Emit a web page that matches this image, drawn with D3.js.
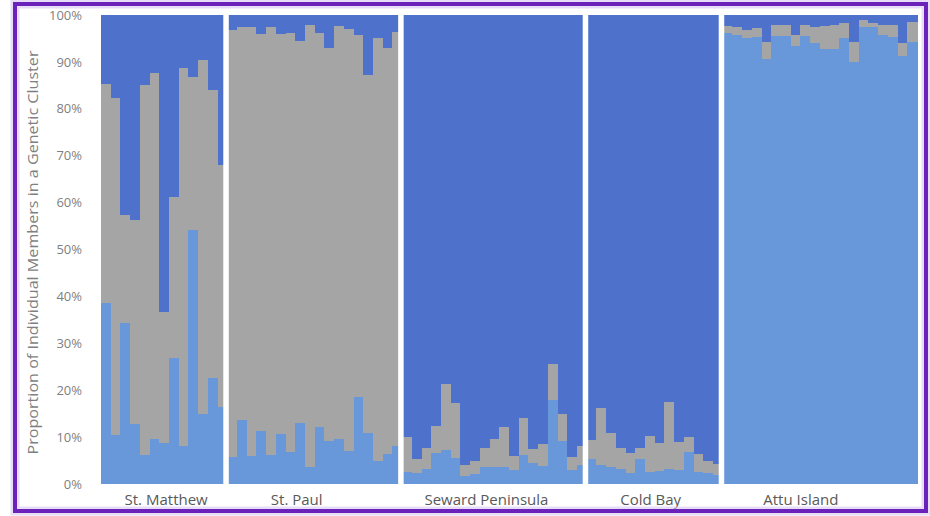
<!DOCTYPE html>
<html>
<head>
<meta charset="utf-8">
<script src="https://cdn.jsdelivr.net/npm/d3@7"></script>
<style>
  html, body { margin: 0; padding: 0; background: #ffffff; }
  svg { display: block; }
</style>
</head>
<body>
<div id="chart"></div>
<script>
// ---------------- DATA ----------------
const populations = ["St. Matthew", "St. Paul", "Seward Peninsula", "Cold Bay", "Attu Island"];
const popSizes = [13, 18, 19, 14, 20];

// Proportion (%) of each individual in each genetic cluster, individuals in order
const clusterLight = [
  // St. Matthew
  38.5, 10.4, 34.4, 12.8, 6.2, 9.7, 8.8, 26.8, 8.0, 54.2, 14.9, 22.5, 16.5,
  // St. Paul
  5.7, 13.6, 6.0, 11.4, 6.2, 10.7, 6.9, 13.1, 3.7, 12.2, 9.2, 9.7, 7.1, 18.5, 10.8, 5.0, 6.5, 8.1,
  // Seward Peninsula
  2.6, 2.4, 3.3, 6.7, 7.2, 5.5, 1.7, 2.1, 3.7, 3.7, 3.7, 3.0, 6.2, 4.4, 3.8, 17.9, 9.2, 3.0, 4.0,
  // Cold Bay
  5.3, 4.0, 3.7, 3.3, 2.3, 5.3, 2.6, 2.8, 3.3, 3.0, 6.9, 2.6, 2.3, 1.9,
  // Attu Island
  96.2, 95.7, 95.0, 95.4, 90.6, 95.5, 95.5, 93.4, 95.5, 94.0, 92.7, 92.7, 95.0, 90.0, 97.5, 97.4, 95.7, 95.4, 91.3, 94.3
];
const clusterGray = [
  46.8, 71.8, 23.0, 43.5, 78.9, 78.0, 27.9, 34.5, 80.6, 32.6, 75.6, 61.5, 51.5,
  91.0, 83.9, 91.5, 84.5, 91.2, 85.3, 89.3, 81.4, 94.2, 84.0, 83.7, 88.0, 89.9, 77.2, 76.4, 90.0, 86.4, 88.3,
  7.5, 2.9, 4.3, 5.7, 14.1, 11.8, 2.4, 2.9, 3.9, 5.8, 8.5, 3.0, 7.8, 3.0, 4.7, 7.7, 5.7, 2.7, 4.1,
  4.1, 12.1, 7.1, 4.3, 4.4, 2.3, 7.6, 6.0, 14.2, 6.0, 3.1, 3.9, 2.5, 2.4,
  1.5, 1.7, 1.9, 1.8, 3.7, 2.4, 2.4, 2.3, 2.4, 3.4, 5.0, 5.2, 3.2, 4.3, 1.4, 0.8, 2.2, 2.5, 2.7, 4.3
];
const clusterDark = [
  14.7, 17.8, 42.6, 43.7, 14.9, 12.3, 63.3, 38.7, 11.4, 13.2, 9.5, 16.0, 32.0,
  3.3, 2.5, 2.5, 4.1, 2.6, 4.0, 3.8, 5.5, 2.1, 3.8, 7.1, 2.3, 3.0, 4.3, 12.8, 5.0, 7.1, 3.6,
  89.9, 94.7, 92.4, 87.6, 78.7, 82.7, 95.9, 95.0, 92.4, 90.5, 87.8, 94.0, 86.0, 92.6, 91.5, 74.4, 85.1, 94.3, 91.9,
  90.6, 83.9, 89.2, 92.4, 93.3, 92.4, 89.8, 91.2, 82.5, 91.0, 90.0, 93.5, 95.2, 95.7,
  2.3, 2.6, 3.1, 2.8, 5.7, 2.1, 2.1, 4.3, 2.1, 2.6, 2.3, 2.1, 1.8, 5.7, 1.1, 1.8, 2.1, 2.1, 6.0, 1.4
];
const clusterKeys = ["light", "gray", "dark"];
const yTickValues = [0, 10, 20, 30, 40, 50, 60, 70, 80, 90, 100];
const yTitle = "Proportion of Individual Members in a Genetic Cluster";

// ---------------- LAYOUT ----------------
const W = 930, H = 516;
const plot = { left: 101, right: 917, top: 15, bottom: 484 };
const colors = { light: "#6898d9", gray: "#a5a5a5", dark: "#4e72cb" };
const labelNudge = [2, -18, -8, -4, -19];

const rows = clusterLight.map((v, i) => ({
  id: i, light: v, gray: clusterGray[i], dark: clusterDark[i]
}));

const svg = d3.select("#chart").append("svg")
  .attr("width", W).attr("height", H);

svg.append("rect").attr("width", W).attr("height", H).attr("fill", "#ffffff");

const x = d3.scaleBand()
  .domain(rows.map(d => d.id))
  .range([plot.left, plot.right])
  .paddingInner(0).paddingOuter(0);

const y = d3.scaleLinear().domain([0, 100]).range([plot.bottom, plot.top]);

const stacked = d3.stack().keys(clusterKeys)(rows);
// reorganize per individual so later bars cover slight overlaps
const perInd = rows.map((r, i) => clusterKeys.map((k, ki) => ({
  key: k, y0: stacked[ki][i][0], y1: stacked[ki][i][1], id: r.id
})));

const bars = svg.append("g").attr("class", "bars");
bars.selectAll("g.ind").data(perInd).join("g").attr("class", "ind")
  .selectAll("rect").data(d => d).join("rect")
  .attr("x", d => x(d.id))
  .attr("width", x.bandwidth() + 0.6)
  .attr("y", d => y(Math.min(100, d.y1)))
  .attr("height", d => Math.max(0, y(d.y0) - y(Math.min(100, d.y1))))
  .attr("fill", d => colors[d.key])
  .attr("shape-rendering", "crispEdges");

// population separators (white gaps)
const starts = [];
let acc = 0;
popSizes.forEach(n => { starts.push(acc); acc += n; });
const seps = starts.slice(1);
svg.append("g").selectAll("rect").data(seps).join("rect")
  .attr("x", d => x(d) - 4)
  .attr("width", 5.5)
  .attr("y", plot.top - 2)
  .attr("height", plot.bottom - plot.top + 4)
  .attr("fill", "#ffffff");

// y axis
const yAxis = d3.axisLeft(y)
  .tickValues(yTickValues)
  .tickFormat(d => d + "%")
  .tickSize(0)
  .tickPadding(19);
const ya = svg.append("g").attr("transform", `translate(${plot.left},0)`).call(yAxis);
ya.select(".domain").remove();
ya.selectAll("text")
  .attr("font-family", "'Open Sans', sans-serif")
  .attr("font-size", 13)
  .attr("fill", "#7f7f7f");

// y title
svg.append("text")
  .attr("transform", `translate(38,${(plot.top + plot.bottom) / 2 + 3}) rotate(-90)`)
  .attr("text-anchor", "middle")
  .attr("font-family", "'Open Sans', sans-serif")
  .attr("font-size", 14.5)
  .attr("textLength", 404)
  .attr("lengthAdjust", "spacingAndGlyphs")
  .attr("fill", "#7f7f7f")
  .text(yTitle);

// population labels
svg.append("g").selectAll("text").data(populations).join("text")
  .attr("x", (d, i) => (x(starts[i]) + x(starts[i] + popSizes[i] - 1) + x.bandwidth()) / 2 + labelNudge[i])
  .attr("y", 505)
  .attr("text-anchor", "middle")
  .attr("font-family", "'Open Sans', sans-serif")
  .attr("font-size", 15)
  .attr("fill", "#595959")
  .text(d => d);

// purple frame with soft glow
svg.append("rect")
  .attr("x", 15).attr("y", 4).attr("width", 911).attr("height", 507)
  .attr("fill", "none").attr("stroke", "#d8c6f2").attr("stroke-width", 9).attr("opacity", 0.6);
svg.append("rect")
  .attr("x", 15).attr("y", 4).attr("width", 911).attr("height", 507)
  .attr("fill", "none").attr("stroke", "#6a22bb").attr("stroke-width", 4);
</script>
</body>
</html>
